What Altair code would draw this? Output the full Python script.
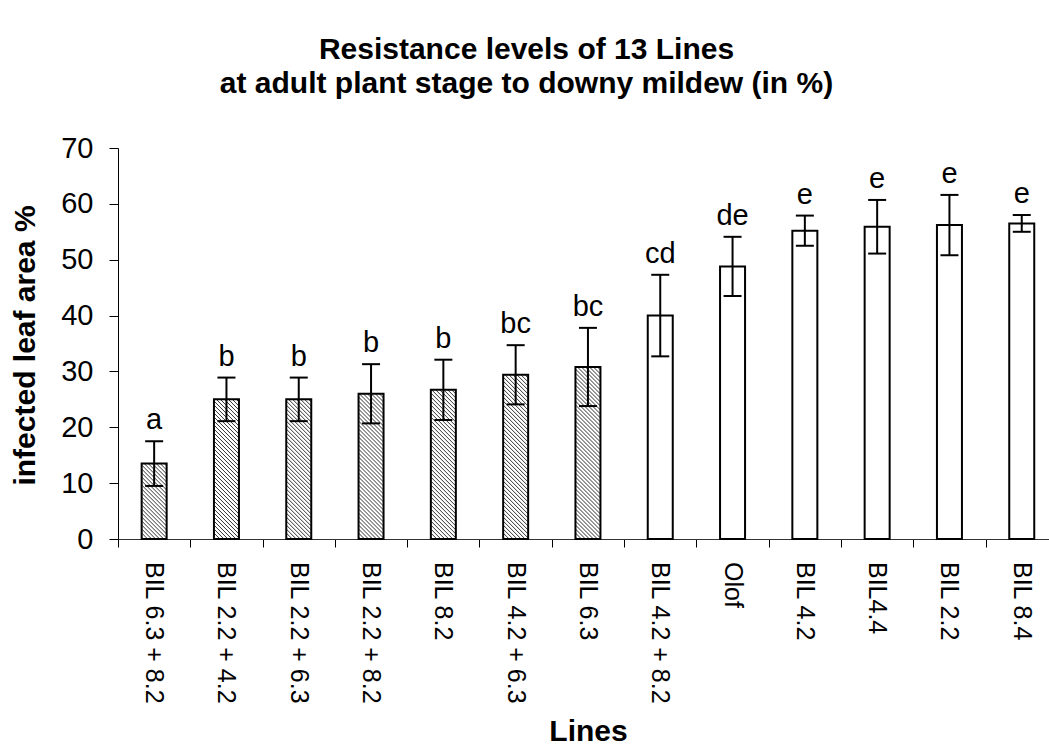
import altair as alt
import pandas as pd

# ---- data ----
lines = ["BIL 6.3 + 8.2", "BIL 2.2 + 4.2", "BIL 2.2 + 6.3", "BIL 2.2 + 8.2", "BIL 8.2",
         "BIL 4.2 + 6.3", "BIL 6.3", "BIL 4.2 + 8.2", "Olof", "BIL 4.2", "BIL4.4",
         "BIL 2.2", "BIL 8.4"]
means = [13.5, 25.0, 25.0, 26.0, 26.7, 29.4, 30.8, 40.0, 48.8, 55.2, 55.9, 56.2, 56.5]
errors = [4.0, 3.9, 3.9, 5.3, 5.4, 5.3, 7.0, 7.3, 5.3, 2.7, 4.8, 5.4, 1.5]
letters = ["a", "b", "b", "b", "b", "bc", "bc", "cd", "de", "e", "e", "e", "e"]
hatched = [True, True, True, True, True, True, True, False, False, False, False, False, False]
y_ticks = [0, 10, 20, 30, 40, 50, 60, 70]

# ---- layout ----
FONT = "Liberation Sans"
PLOT_W, PLOT_H = 931, 391
STEP = 72.3                 # pixels per category
Y_MAX = 70
SX = STEP                   # px per x unit
SY = PLOT_H / Y_MAX         # px per y unit
BAR_HALF = 12.5 / SX        # half bar width in x units
CAP_HALF = 9.0 / SX
HATCH_GAP = 4.0             # px

df = pd.DataFrame({
    "idx": list(range(len(lines))),
    "line": lines,
    "mean": means,
    "err": errors,
    "letter": letters,
    "hatched": hatched,
})
df["x1"] = df["idx"] - BAR_HALF
df["x2"] = df["idx"] + BAR_HALF
df["lo"] = df["mean"] - df["err"]
df["hi"] = df["mean"] + df["err"]
df["c1"] = df["idx"] - CAP_HALF
df["c2"] = df["idx"] + CAP_HALF

# hatch segments derived from hatched bars (diagonal, top-left to bottom-right)
rows = []
for _, r in df[df["hatched"]].iterrows():
    w = 2 * BAR_HALF * SX
    H = r["mean"] * SY
    t = HATCH_GAP / 2
    while t < w + H:
        xa = max(0.0, t - H)
        xb = min(w, t)
        rows.append({
            "hx1": r["x1"] + xa / SX, "hy1": (t - xa) / SY,
            "hx2": r["x1"] + xb / SX, "hy2": (t - xb) / SY,
        })
        t += HATCH_GAP
hatch = pd.DataFrame(rows)

xscale = alt.Scale(domain=[-0.5, -0.5 + PLOT_W / STEP], nice=False, zero=False)
yscale = alt.Scale(domain=[0, Y_MAX], nice=False)

base = alt.Chart(df)

bars_fill = base.mark_rect(fill="white", stroke=None).encode(
    x=alt.X("x1:Q", scale=xscale,
            axis=alt.Axis(values=[i - 0.5 for i in range(len(lines))], labels=False,
                          tickSize=8, tickColor="black", domainColor="#333333",
                          tickWidth=1, domainWidth=1, grid=False,
                          title="Lines", titleFont=FONT, titleFontSize=30,
                          titleFontWeight="bold", titleColor="black",
                          titleX=470, titleY=201, titleAlign="center",
                          titleBaseline="alphabetic")),
    x2="x2:Q",
    y=alt.Y("mean:Q", scale=yscale,
            axis=alt.Axis(values=y_ticks, tickSize=9, tickColor="black",
                          domainColor="black", tickWidth=1, domainWidth=1, grid=False,
                          labelFont=FONT, labelFontSize=29, labelColor="black",
                          labelPadding=16,
                          title="infected leaf area %", titleFont=FONT, titleFontSize=30,
                          titleFontWeight="bold", titleColor="black",
                          titleX=-84, titleY=197, titleAlign="center",
                          titleBaseline="alphabetic", titleAngle=-90)),
    y2=alt.Y2(datum=0),
)

hatch_lines = alt.Chart(hatch).mark_rule(color="#333333", strokeWidth=1.0).encode(
    x=alt.X("hx1:Q", scale=xscale), x2="hx2:Q",
    y=alt.Y("hy1:Q", scale=yscale), y2="hy2:Q",
)

bars_outline = base.mark_rect(fill=None, stroke="black", strokeWidth=2).encode(
    x=alt.X("x1:Q", scale=xscale), x2="x2:Q",
    y=alt.Y("mean:Q", scale=yscale), y2=alt.Y2(datum=0),
)

err_stem = base.mark_rule(color="black", strokeWidth=2).encode(
    x=alt.X("idx:Q", scale=xscale),
    y=alt.Y("lo:Q", scale=yscale), y2="hi:Q",
)
cap_hi = base.mark_rule(color="black", strokeWidth=2).encode(
    x=alt.X("c1:Q", scale=xscale), x2="c2:Q",
    y=alt.Y("hi:Q", scale=yscale),
)
cap_lo = base.mark_rule(color="black", strokeWidth=2).encode(
    x=alt.X("c1:Q", scale=xscale), x2="c2:Q",
    y=alt.Y("lo:Q", scale=yscale),
)

letter_text = base.mark_text(font=FONT, fontSize=29, color="black",
                             baseline="alphabetic", align="center", dy=-12).encode(
    x=alt.X("idx:Q", scale=xscale),
    y=alt.Y("hi:Q", scale=yscale),
    text="letter:N",
)

cat_labels = base.mark_text(font=FONT, fontSize=25, color="black", angle=90,
                            align="left", baseline="middle").encode(
    x=alt.X("idx:Q", scale=xscale),
    y=alt.value(PLOT_H + 23),
    text="line:N",
)

chart = alt.layer(
    bars_fill, hatch_lines, bars_outline, err_stem, cap_hi, cap_lo, letter_text, cat_labels
).properties(
    width=PLOT_W, height=PLOT_H,
    title=alt.TitleParams(
        text=["Resistance levels of 13 Lines", "at adult plant stage to downy mildew (in %)"],
        font=FONT, fontSize=30, fontWeight="bold", color="black",
        anchor="middle", dx=-57, dy=-35, lineHeight=34, offset=0,
    ),
    autosize=alt.AutoSizeParams(type="none"),
    padding={"left": 118, "top": 148, "right": 0, "bottom": 208},
    background="white",
).configure_view(stroke=None)

chart.save("out.html", embed_options={"renderer": "svg", "actions": False})
